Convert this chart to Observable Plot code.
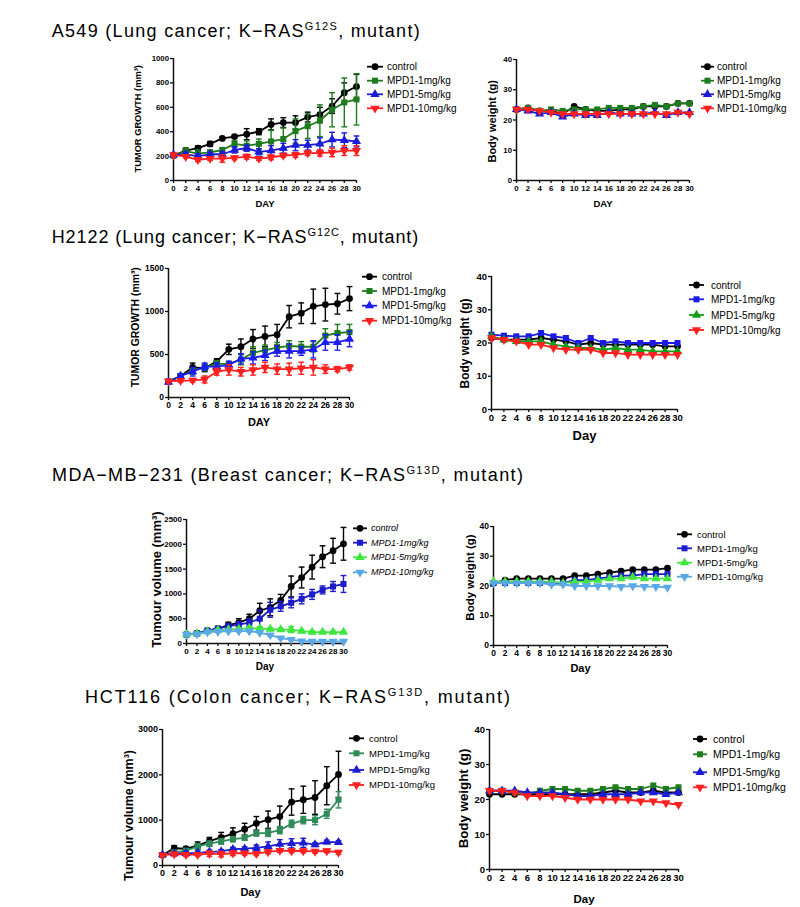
<!DOCTYPE html>
<html><head><meta charset="utf-8">
<script src="https://cdn.jsdelivr.net/npm/d3@7"></script>
<script src="https://cdn.jsdelivr.net/npm/@observablehq/plot@0.6"></script>
<style>
html,body{margin:0;padding:0;background:#fff;overflow:hidden}
#root{position:relative;width:800px;height:907px;overflow:hidden;background:#fff}
#root svg{position:absolute;overflow:visible}
</style></head>
<body><div id="root"></div>
<script>
// ---------- shared ----------
const days = [0,2,4,6,8,10,12,14,16,18,20,22,24,26,28,30];
const dayTicks = [0,2,4,6,8,10,12,14,16,18,20,22,24,26,28,30];
const seriesNames = ["control","MPD1-1mg/kg","MPD1-5mg/kg","MPD1-10mg/kg"];
const bodyTicks = [0,10,20,30,40];

// ---------- A549 ----------
const a549TumorTicks = [0,200,400,600,800,1000];
const a549Tumor_control = [205,245,265,300,345,360,380,400,460,475,475,520,540,610,720,770];
const a549Tumor_controlErr = [10,20,20,20,10,12,45,25,45,40,55,40,60,60,80,100];
const a549Tumor_1mg = [205,240,220,230,250,300,285,300,320,340,405,445,490,580,640,665];
const a549Tumor_1mgErr = [10,25,30,20,20,25,40,40,90,90,100,100,130,140,200,210];
const a549Tumor_5mg = [210,215,200,215,215,250,265,235,245,265,290,290,300,335,330,320];
const a549Tumor_5mgErr = [10,15,15,15,20,25,25,25,40,40,45,40,50,60,60,45];
const a549Tumor_10mg = [210,195,170,180,180,185,195,180,190,205,210,225,225,230,245,245];
const a549Tumor_10mgErr = [10,10,15,15,30,15,20,15,20,15,20,20,25,35,40,40];

const a549Body_control = [23.5,24,23,23,22,24.5,23.5,23,23,23.5,23.5,24.5,24.5,24.5,25.5,25.5];
const a549Body_1mg = [23.5,24,23,23.5,23,23.5,23.5,23.5,24,24,24,24.5,25,24.5,25.5,25.5];
const a549Body_5mg = [23.5,23,22,22.5,21,22,21.5,21.5,22.5,22,22,22,22.5,21.5,22.5,22.5];
const a549Body_10mg = [23.5,23.5,23,22.5,22,22,22,22,22,22,22,22,22,22,22.5,22];

// ---------- H2122 ----------
const h2122TumorTicks = [0,500,1000,1500];
const h2122Tumor_control = [185,250,350,340,420,560,590,680,710,730,940,980,1060,1080,1090,1150];
const h2122Tumor_controlErr = [15,25,50,40,30,60,90,110,120,120,130,120,200,190,120,140];
const h2122Tumor_1mg = [185,250,310,350,390,390,440,520,550,580,600,590,590,720,750,760];
const h2122Tumor_1mgErr = [15,25,40,40,40,30,60,70,60,60,60,60,60,80,100,90];
const h2122Tumor_5mg = [180,250,300,360,360,380,450,460,490,540,540,540,560,640,640,680];
const h2122Tumor_5mgErr = [15,25,50,40,40,40,60,70,60,60,80,50,100,90,90,90];
const h2122Tumor_10mg = [190,195,200,210,300,320,300,320,350,330,330,340,350,330,330,350];
const h2122Tumor_10mgErr = [15,15,20,40,40,60,50,60,60,60,70,70,90,50,30,30];

const h2122Body_control = [21.5,21,21,21,21.5,21,20.5,19.5,20,19.5,19.5,19.5,19.5,19.5,19,19];
const h2122Body_1mg = [22.5,22.2,22,22,23,22,21.5,20,21.5,20,20.5,20,20,20,20,20];
const h2122Body_5mg = [22,21,20.5,20.5,20.5,19.5,19,18.5,18.5,18,18.5,18,18,17.5,17.5,17.5];
const h2122Body_10mg = [21.5,21,20.5,19.5,19.5,18.5,18,18,18,17,17,16.5,16.5,16.5,16.5,16.5];

// ---------- MDA-MB-231 ----------
const mdaTumorTicks = [0,500,1000,1500,2000,2500];
const mdaTumor_control = [180,210,260,300,370,420,500,660,730,870,1150,1330,1540,1750,1870,2010];
const mdaTumor_controlErr = [20,25,30,40,60,80,90,150,170,120,210,210,240,220,250,330];
const mdaTumor_1mg = [180,200,260,300,350,380,420,500,680,750,820,900,990,1080,1150,1200];
const mdaTumor_1mgErr = [20,25,30,40,50,60,80,170,150,100,100,100,100,80,100,170];
const mdaTumor_5mg = [180,200,240,270,280,290,310,300,290,280,280,250,230,230,230,230];
const mdaTumor_5mgErr = [15,20,20,20,20,30,30,40,30,30,60,30,30,20,20,20];
const mdaTumor_10mg = [180,190,230,240,250,250,250,220,170,110,80,50,40,40,40,40];
const mdaTumor_10mgErr = [15,15,20,20,20,20,20,20,20,20,20,10,10,10,10,10];

const mdaBody_control = [21,22,22.5,22.5,22.5,22.5,22.5,23.5,23.5,24,24.5,25,25.5,25.5,25.5,26];
const mdaBody_1mg = [21,21,21,21,21,21,21,22,22,22.5,23,23.5,23.5,24,24,24];
const mdaBody_5mg = [21.5,21.5,21.5,21.5,21.5,21.5,21,21.5,21.5,22,22.5,22.5,23,22.5,22.5,22.5];
const mdaBody_10mg = [21,21,21,21,21,20.5,20.5,20,20,20,20,19.8,20,19.8,19.8,19.5];

// ---------- HCT116 ----------
const hctTumorTicks = [0,1000,2000,3000];
const hctTumor_control = [230,380,370,440,540,620,700,800,930,1010,1080,1400,1450,1500,1760,2010];
const hctTumor_controlErr = [40,60,40,80,80,110,130,130,150,190,230,290,300,370,420,510];
const hctTumor_1mg = [230,290,330,420,480,530,580,610,710,720,780,920,1000,1000,1140,1450];
const hctTumor_1mgErr = [30,40,40,60,60,60,60,50,60,80,80,80,80,100,100,180];
const hctTumor_5mg = [240,260,270,280,300,310,360,370,390,420,470,490,500,460,520,510];
const hctTumor_5mgErr = [30,40,40,40,40,40,40,40,60,100,100,100,100,40,40,40];
const hctTumor_10mg = [230,250,240,240,260,250,270,270,260,300,330,320,320,310,320,290];
const hctTumor_10mgErr = [30,40,40,30,60,60,50,40,40,40,40,40,40,40,40,40];

const hctBody_control = [21.5,21.5,21.5,21.5,21.5,21.5,21.5,21.5,21.5,22,22.5,22,22,22.5,22,22];
const hctBody_1mg = [22.5,22.5,22,21.5,22.5,23,23,22.5,22.5,23,23.5,23,23,24,23,23.5];
const hctBody_5mg = [22.5,22.5,22.5,22,22,22,21.5,21,21,21.5,21.5,21.5,22,22,21.5,22];
const hctBody_10mg = [22.5,22.5,22,21,21,21,20.5,20,20,20,20,20,19.5,19.5,19,18.5];

// ---------- symbols ----------
const sqrt3 = Math.sqrt(3);
const triDown = {draw(ctx, size){ const y = -Math.sqrt(size/(sqrt3*3)); ctx.moveTo(0,-y*2); ctx.lineTo(-sqrt3*y, y); ctx.lineTo(sqrt3*y, y); ctx.closePath(); }};
const capSym = {draw(ctx, size){ const r = Math.sqrt(size/Math.PI); ctx.moveTo(-r,0); ctx.lineTo(r,0); }};
const seriesSymbols = [d3.symbolCircle, d3.symbolSquare, d3.symbolTriangle, triDown];
const MR = 3.4; // marker radius

// ---------- panels ----------
const panels = [
 {values:[a549Tumor_control,a549Tumor_1mg,a549Tumor_5mg,a549Tumor_10mg],
  errors:[a549Tumor_controlErr,a549Tumor_1mgErr,a549Tumor_5mgErr,a549Tumor_10mgErr],
  yMax:1000, yTicks:a549TumorTicks, yLabel:"TUMOR GROWTH (mm³)", xLabel:"DAY",
  colors:["#000000","#1e7b1e","#1c1cd4","#ff2020"],
  box:{x0:173,x30:356,yTop:58,y0:180}, yl:{x:138,y:118.3,size:9.3}, xl:{y:203,size:9.5}, tick:7.8,
  legend:{rows:[66.7,80.7,94.3,108.3], sx1:367, sx2:383, tx:387, size:10, italic:false}},
 {values:[a549Body_control,a549Body_1mg,a549Body_5mg,a549Body_10mg], errors:null,
  yMax:40, yTicks:bodyTicks, yLabel:"Body weight (g)", xLabel:"DAY",
  colors:["#000000","#1e7b1e","#1c1cd4","#ff2020"],
  box:{x0:516,x30:689,yTop:59,y0:180}, yl:{x:491.7,y:120.8,size:11}, xl:{y:203,size:9.5}, tick:7.8,
  legend:{rows:[66.7,80.7,94.3,108.3], sx1:701, sx2:714, tx:717, size:10, italic:false}},
 {values:[h2122Tumor_control,h2122Tumor_1mg,h2122Tumor_5mg,h2122Tumor_10mg],
  errors:[h2122Tumor_controlErr,h2122Tumor_1mgErr,h2122Tumor_5mgErr,h2122Tumor_10mgErr],
  yMax:1500, yTicks:h2122TumorTicks, yLabel:"TUMOR GROWTH (mm³)", xLabel:"DAY",
  colors:["#000000","#1e7b1e","#1c1cf0","#ff2020"],
  box:{x0:168,x30:349,yTop:268,y0:397}, yl:{x:135,y:326.7,size:10.4}, xl:{y:421.7,size:11}, tick:8.5,
  legend:{rows:[276.7,291,305.7,320.7], sx1:362, sx2:377, tx:382, size:10, italic:false}},
 {values:[h2122Body_control,h2122Body_1mg,h2122Body_5mg,h2122Body_10mg], errors:null,
  yMax:40, yTicks:bodyTicks, yLabel:"Body weight (g)", xLabel:"Day",
  colors:["#000000","#1a1ae0","#169c16","#ff2020"],
  box:{x0:491,x30:677,yTop:276,y0:409}, yl:{x:465,y:343,size:12}, xl:{y:435,size:13}, tick:9.5,
  legend:{rows:[285,299.3,315,330], sx1:689, sx2:704, tx:711, size:10, italic:false}},
 {values:[mdaTumor_control,mdaTumor_1mg,mdaTumor_5mg,mdaTumor_10mg],
  errors:[mdaTumor_controlErr,mdaTumor_1mgErr,mdaTumor_5mgErr,mdaTumor_10mgErr],
  yMax:2500, yTicks:mdaTumorTicks, yLabel:"Tumour volume (mm³)", xLabel:"Day",
  colors:["#000000","#1c1cc8","#3ee63e","#5aa8e8"],
  box:{x0:186,x30:343,yTop:519,y0:643}, yl:{x:156.7,y:579,size:13}, xl:{y:666.7,size:10}, tick:8,
  legend:{rows:[528.3,542.7,557.3,572.3], sx1:353, sx2:367, tx:371, size:9, italic:true}},
 {values:[mdaBody_control,mdaBody_1mg,mdaBody_5mg,mdaBody_10mg], errors:null,
  yMax:40, yTicks:bodyTicks, yLabel:"Body weight (g)", xLabel:"Day",
  colors:["#000000","#1c1cc8","#3ee63e","#5aa8e8"],
  box:{x0:493,x30:667,yTop:526,y0:645}, yl:{x:470,y:577,size:11.5}, xl:{y:667.7,size:11}, tick:8.5,
  legend:{rows:[534.3,548.3,562.7,576.7], sx1:677, sx2:692, tx:697, size:9.5, italic:false}},
 {values:[hctTumor_control,hctTumor_1mg,hctTumor_5mg,hctTumor_10mg],
  errors:[hctTumor_controlErr,hctTumor_1mgErr,hctTumor_5mgErr,hctTumor_10mgErr],
  yMax:3000, yTicks:hctTumorTicks, yLabel:"Tumour volume (mm³)", xLabel:"Day",
  colors:["#000000","#2e8b57","#1c1cd0","#ff2020"],
  box:{x0:162,x30:338,yTop:729,y0:865}, yl:{x:128,y:815,size:12.5}, xl:{y:891.7,size:11}, tick:9,
  legend:{rows:[738.3,753.3,770,785], sx1:349, sx2:364, tx:369, size:9.5, italic:false}},
 {values:[hctBody_control,hctBody_1mg,hctBody_5mg,hctBody_10mg], errors:null,
  yMax:40, yTicks:bodyTicks, yLabel:"Body weight (g)", xLabel:"Day",
  colors:["#000000","#1e7e1e","#1c1cd0","#ff2020"],
  box:{x0:489,x30:678,yTop:729,y0:869}, yl:{x:463.3,y:798,size:13.3}, xl:{y:898.5,size:11.5}, tick:9.5,
  legend:{rows:[739,754.3,772.3,787.3], sx1:693, sx2:707, tx:713, size:10.5, italic:false}}
];

const root = document.getElementById("root");
const FONT = "'Liberation Sans', Arial, Helvetica, sans-serif";

function buildPanel(p){
  const mL=60, mR=6, mT=8, mB=45;
  const w = p.box.x30 - p.box.x0, h = p.box.y0 - p.box.yTop;
  const marks = [
    Plot.ruleY([0], {stroke:"#111", strokeWidth:1.5}),
    Plot.ruleX([0], {stroke:"#111", strokeWidth:1.5}),
    Plot.axisX({ticks:dayTicks, tickSize:3, tickPadding:1.5, tickFormat:"d", label:null, fontSize:p.tick, fontWeight:"bold", stroke:"#111", strokeWidth:1.3}),
    Plot.axisY({ticks:p.yTicks, tickSize:3, tickPadding:1.5, tickFormat:"d", label:null, fontSize:p.tick, fontWeight:"bold", stroke:"#111", strokeWidth:1.3}),
    Plot.text([p.yLabel], {frameAnchor:"left", textAnchor:"middle", lineAnchor:"middle", rotate:-90,
      dx: p.yl.x - p.box.x0, dy: p.yl.y - (p.box.yTop + p.box.y0)/2, fontSize:p.yl.size, fontWeight:"bold", fill:"#000"}),
    Plot.text([p.xLabel], {frameAnchor:"bottom", textAnchor:"middle", lineAnchor:"middle",
      dy: p.xl.y - p.box.y0, fontSize:p.xl.size, fontWeight:"bold", fill:"#000"})
  ];
  p.values.forEach((vals, si) => {
    const errs = p.errors ? p.errors[si] : null;
    const rows = days.map((d,i) => ({day:d, v:vals[i], lo: errs ? vals[i]-errs[i] : null, hi: errs ? vals[i]+errs[i] : null}));
    const c = p.colors[si];
    marks.push(Plot.line(rows, {x:"day", y:"v", stroke:c, strokeWidth:1.8}));
    if (errs) {
      marks.push(Plot.ruleX(rows, {x:"day", y1:"lo", y2:"hi", stroke:c, strokeWidth:1.4}));
      marks.push(Plot.dot(rows, {x:"day", y:"hi", symbol:capSym, r:2.9, stroke:c, strokeWidth:1.4, fill:"none"}));
      marks.push(Plot.dot(rows, {x:"day", y:"lo", symbol:capSym, r:2.9, stroke:c, strokeWidth:1.4, fill:"none"}));
    }
    marks.push(Plot.dot(rows, {x:"day", y:"v", symbol:seriesSymbols[si], r:MR, fill:c, stroke:"none"}));
  });
  const svg = Plot.plot({
    width: w + mL + mR, height: h + mT + mB,
    marginLeft:mL, marginRight:mR, marginTop:mT, marginBottom:mB,
    x:{domain:[0,30]}, y:{domain:[0,p.yMax]},
    style:{fontFamily:FONT, background:"transparent", overflow:"visible", color:"#000"},
    marks
  });
  svg.style.left = (p.box.x0 - mL) + "px";
  svg.style.top = (p.box.yTop - mT) + "px";
  root.appendChild(svg);
}
panels.forEach(buildPanel);

// ---------- overlay: titles + legends ----------
const ov = d3.select(root).append("svg").attr("width",800).attr("height",907)
  .style("left","0px").style("top","0px").style("pointer-events","none");

const titles = [
  {pre:"A549 (Lung cancer; K\u2212RAS", sup:"G12S", post:", mutant)", x:51.7, y:36.7, len:368},
  {pre:"H2122 (Lung cancer; K\u2212RAS", sup:"G12C", post:", mutant)", x:51.7, y:243, len:366.6},
  {pre:"MDA\u2212MB\u2212231 (Breast cancer; K\u2212RAS", sup:"G13D", post:", mutant)", x:52, y:480.7, len:471},
  {pre:"HCT116 (Colon cancer; K\u2212RAS", sup:"G13D", post:", mutant)", x:85, y:703, len:425}
];
titles.forEach(t => {
  const tx = ov.append("text").attr("x",t.x).attr("y",t.y)
    .attr("font-family",FONT).attr("font-size",18).attr("fill","#000")
    .attr("textLength",t.len).attr("lengthAdjust","spacing");
  tx.append("tspan").text(t.pre);
  tx.append("tspan").attr("dy",-6.7).attr("font-size",11).text(t.sup);
  tx.append("tspan").attr("dy",6.7).text(t.post);
});

panels.forEach(p => {
  const L = p.legend;
  seriesNames.forEach((name, si) => {
    const y = L.rows[si], c = p.colors[si];
    ov.append("line").attr("x1",L.sx1).attr("x2",L.sx2).attr("y1",y).attr("y2",y)
      .attr("stroke",c).attr("stroke-width",1.8);
    ov.append("path").attr("d", d3.symbol(seriesSymbols[si], Math.PI*MR*MR)())
      .attr("transform",`translate(${(L.sx1+L.sx2)/2},${y})`).attr("fill",c);
    ov.append("text").attr("x",L.tx).attr("y",y).attr("dy","0.35em")
      .attr("font-family",FONT).attr("font-size",L.size)
      .attr("font-style", L.italic ? "italic" : "normal").attr("fill","#000").text(name);
  });
});
</script>
</body></html>
